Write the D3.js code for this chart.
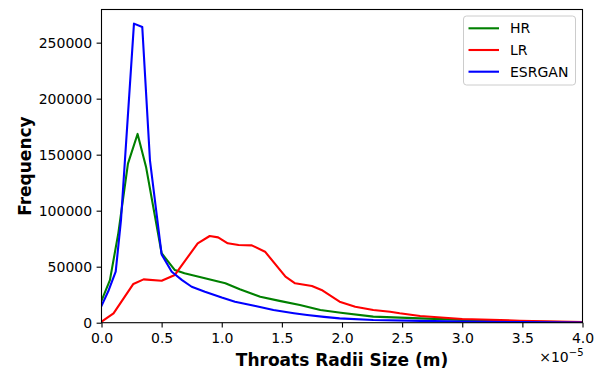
<!DOCTYPE html>
<html>
<head>
<meta charset="utf-8">
<script src="https://cdn.jsdelivr.net/npm/d3@7"></script>
<style>
  html, body { margin: 0; padding: 0; background: #fff; }
  svg { display: block; font-family: "DejaVu Sans", sans-serif; }
</style>
</head>
<body>
<svg id="chart" width="606" height="374"></svg>
<script>
// Throat radii in units of 1e-5 m, with frequency counts per series
const hrRadius  = [0.00, 0.07, 0.14, 0.22, 0.30, 0.37, 0.50, 0.61, 0.69, 0.86, 1.03, 1.15, 1.28, 1.32, 1.48, 1.65, 1.82, 1.99, 2.26, 2.65, 3.00, 3.50, 4.00];
const hrFreq    = [19600, 38000, 80000, 142000, 168500, 139300, 62000, 47000, 44100, 39600, 35200, 29800, 24700, 23200, 19500, 15800, 11300, 8900, 5400, 3900, 2500, 1000, 300];

const lrRadius  = [0.00, 0.10, 0.265, 0.35, 0.50, 0.61, 0.80, 0.90, 0.97, 1.05, 1.14, 1.25, 1.36, 1.53, 1.61, 1.75, 1.83, 1.98, 2.11, 2.26, 2.40, 2.48, 2.65, 3.00, 3.48, 4.00];
const lrFreq    = [900, 8400, 34600, 38700, 37500, 42600, 70900, 77400, 76200, 70900, 69400, 69000, 63400, 41100, 35200, 32800, 29200, 18800, 14300, 11300, 9800, 8400, 6000, 3300, 1800, 500];

const esRadius  = [0.00, 0.06, 0.118, 0.162, 0.27, 0.339, 0.403, 0.50, 0.584, 0.67, 0.75, 0.86, 1.00, 1.11, 1.28, 1.43, 1.60, 1.71, 1.85, 1.98, 2.26, 2.65, 3.00, 3.50, 4.00];
const esFreq    = [15000, 29000, 45500, 91500, 267000, 264000, 145000, 61000, 45500, 38000, 32100, 27700, 22500, 18750, 14900, 11300, 8500, 6900, 5200, 3900, 2400, 1600, 1000, 500, 200];

const seriesNames  = ["HR", "LR", "ESRGAN"];
const seriesColors = ["green", "red", "blue"];
const xTicks = [0.0, 0.5, 1.0, 1.5, 2.0, 2.5, 3.0, 3.5, 4.0];
const yTicks = [0, 50000, 100000, 150000, 200000, 250000];

const series = [
  { name: seriesNames[0], color: seriesColors[0], pts: hrRadius.map((r, i) => [r, hrFreq[i]]) },
  { name: seriesNames[1], color: seriesColors[1], pts: lrRadius.map((r, i) => [r, lrFreq[i]]) },
  { name: seriesNames[2], color: seriesColors[2], pts: esRadius.map((r, i) => [r, esFreq[i]]) }
];

const svg = d3.select("#chart");
const plot = { left: 101.5, right: 582.5, top: 9.5, bottom: 322.7 };

const x = d3.scaleLinear().domain([0, 4]).range([plot.left, plot.right]);
const y = d3.scaleLinear().domain([0, 279600]).range([plot.bottom, plot.top]);

svg.append("defs").append("clipPath").attr("id", "plotclip")
  .append("rect")
  .attr("x", plot.left).attr("y", plot.top)
  .attr("width", plot.right - plot.left).attr("height", plot.bottom - plot.top);

// Lines
const line = d3.line().x(d => x(d[0])).y(d => y(d[1]));
const lines = svg.append("g").attr("clip-path", "url(#plotclip)");
series.forEach(s => {
  lines.append("path")
    .attr("d", line(s.pts))
    .attr("fill", "none")
    .attr("stroke", s.color)
    .attr("stroke-width", 2.1)
    .attr("stroke-linejoin", "round")
    .attr("stroke-linecap", "square");
});

// Axes
const xAxis = d3.axisBottom(x).tickValues(xTicks).tickFormat(d3.format(".1f")).tickSizeOuter(0).tickSize(4.9).tickPadding(5.8);
const yAxis = d3.axisLeft(y).tickValues(yTicks).tickFormat(d3.format("d")).tickSizeOuter(0).tickSize(4.9).tickPadding(4.5);

const gx = svg.append("g").attr("transform", `translate(0,${plot.bottom})`).call(xAxis);
const gy = svg.append("g").attr("transform", `translate(${plot.left},0)`).call(yAxis);
[gx, gy].forEach(g => {
  g.select(".domain").remove();
  g.selectAll(".tick line").attr("stroke", "#000").attr("stroke-width", 1.1);
  g.selectAll(".tick text").attr("fill", "#000").style("font-size", "14px").style("font-family", "DejaVu Sans");
});

// Frame
svg.append("rect")
  .attr("x", plot.left).attr("y", plot.top)
  .attr("width", plot.right - plot.left).attr("height", plot.bottom - plot.top)
  .attr("fill", "none").attr("stroke", "#000").attr("stroke-width", 1.1);

// Axis titles
svg.append("text")
  .attr("x", (plot.left + plot.right) / 2).attr("y", 366)
  .attr("text-anchor", "middle")
  .style("font-size", "17px").style("font-weight", "bold")
  .text("Throats Radii Size (m)");

svg.append("text")
  .attr("transform", `translate(31,${(plot.top + plot.bottom) / 2}) rotate(-90)`)
  .attr("text-anchor", "middle")
  .style("font-size", "17px").style("font-weight", "bold")
  .text("Frequency");

// Scale offset text
const off = svg.append("text")
  .attr("x", plot.right + 1).attr("y", 362)
  .attr("text-anchor", "end")
  .style("font-size", "14px");
off.append("tspan").text("×10");
off.append("tspan").attr("dy", -6).style("font-size", "10px").text("−5");

// Legend
const lg = svg.append("g");
lg.append("rect")
  .attr("x", 463.5).attr("y", 16).attr("width", 112).attr("height", 69)
  .attr("rx", 3).attr("fill", "#fff").attr("fill-opacity", 0.8)
  .attr("stroke", "#ccc").attr("stroke-width", 1);
series.forEach((s, i) => {
  const cy = 28.3 + i * 21.7;
  lg.append("line")
    .attr("x1", 468.5).attr("x2", 499).attr("y1", cy).attr("y2", cy)
    .attr("stroke", s.color).attr("stroke-width", 2.1);
  lg.append("text")
    .attr("x", 510).attr("y", cy + 5)
    .style("font-size", "14px")
    .text(s.name);
});
</script>
</body>
</html>
